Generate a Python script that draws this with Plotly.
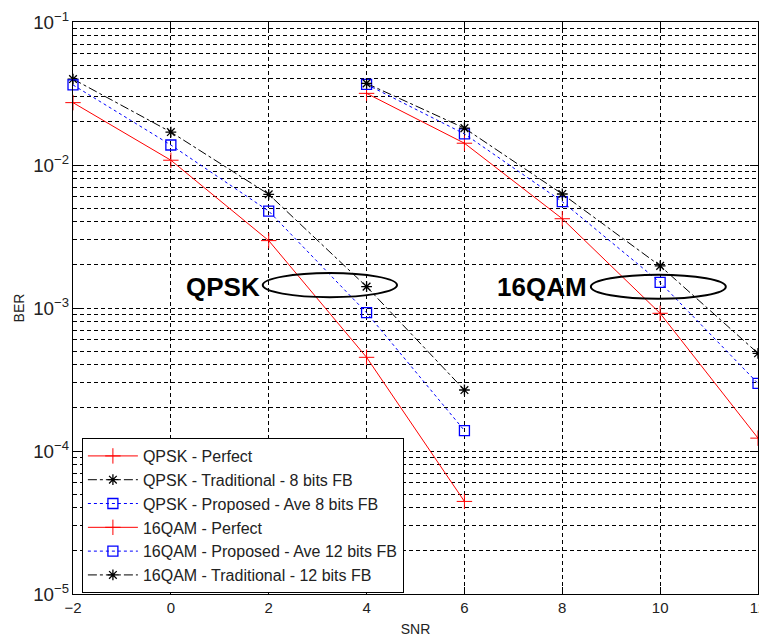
import plotly.graph_objects as go

# ---- data ----
snr_qpsk = [-2, 0, 2, 4, 6]
qpsk_perfect = [0.0273, 0.0108, 0.00296, 4.52e-4, 4.44e-5]
qpsk_trad = [0.0399, 0.0170, 0.00624, 0.00141, 2.67e-4]
qpsk_prop = [0.0363, 0.0138, 0.00476, 9.27e-4, 1.39e-4]

snr_16qam = [4, 6, 8, 10, 12]
qam_perfect = [0.0317, 0.0142, 0.00421, 9.18e-4, 1.23e-4]
qam_prop = [0.0366, 0.0165, 0.00554, 0.00151, 2.97e-4]
qam_trad = [0.0372, 0.0181, 0.00627, 0.00197, 4.82e-4]

x_ticks = [-2, 0, 2, 4, 6, 8, 10, 12]

FONT = "Arial, Liberation Sans, Helvetica, sans-serif"
GRID = dict(gridcolor="black", gridwidth=1, griddash="4px,3px")

perfect_style = dict(mode="lines+markers", line=dict(color="red", width=1),
                     marker=dict(symbol="cross-thin", size=11, color="red",
                                 line=dict(color="red", width=1)))
trad_style = dict(mode="lines+markers", line=dict(color="black", width=1, dash="dashdot"),
                  marker=dict(symbol="asterisk", size=9, color="black",
                              line=dict(color="black", width=1.3)))
prop_style = dict(mode="lines+markers", line=dict(color="blue", width=1, dash="dot"),
                  marker=dict(symbol="square-open", size=10, color="blue",
                              line=dict(color="blue", width=1.3)))

fig = go.Figure()
fig.add_trace(go.Scatter(x=snr_qpsk, y=qpsk_perfect, name="QPSK - Perfect", cliponaxis=False, **perfect_style))
fig.add_trace(go.Scatter(x=snr_qpsk, y=qpsk_trad, name="QPSK - Traditional - 8 bits FB", cliponaxis=False, **trad_style))
fig.add_trace(go.Scatter(x=snr_qpsk, y=qpsk_prop, name="QPSK - Proposed - Ave 8 bits FB", cliponaxis=False, **prop_style))
fig.add_trace(go.Scatter(x=snr_16qam, y=qam_perfect, name="16QAM - Perfect", cliponaxis=False, **perfect_style))
fig.add_trace(go.Scatter(x=snr_16qam, y=qam_prop, name="16QAM - Proposed - Ave 12 bits FB", cliponaxis=False, **prop_style))
fig.add_trace(go.Scatter(x=snr_16qam, y=qam_trad, name="16QAM - Traditional - 12 bits FB", cliponaxis=False, **trad_style))

fig.update_xaxes(
    range=[-2, 12], tickvals=x_ticks, showgrid=True, **GRID,
    showline=True, linecolor="black", linewidth=1, mirror="ticks",
    ticks="inside", ticklen=7, tickcolor="black",
    zeroline=False, ticklabeloverflow="allow", automargin=False,
    title=dict(text="SNR", font=dict(size=14, color="#222", family=FONT), standoff=9),
    tickfont=dict(size=15, color="#222", family=FONT),
)
fig.update_yaxes(
    type="log", range=[-5, -1], dtick=1, exponentformat="power", showexponent="all",
    showgrid=True, **GRID,
    minor=dict(dtick="D1", showgrid=True, ticks="", **GRID),
    showline=True, linecolor="black", linewidth=1, mirror="ticks",
    ticks="inside", ticklen=8, tickcolor="black", automargin=False,
    title=dict(text="BER", font=dict(size=14, color="#222", family=FONT), standoff=5),
    tickfont=dict(size=15, color="#222", family=FONT),
)

# ellipses and labels
fig.add_shape(type="circle", xref="paper", yref="paper", x0=0.277, x1=0.473, y0=0.519, y1=0.561,
              line=dict(color="black", width=2))
fig.add_shape(type="circle", xref="paper", yref="paper", x0=0.756, x1=0.953, y0=0.516, y1=0.558,
              line=dict(color="black", width=2))
fig.add_annotation(text="<b>QPSK</b>", xref="paper", yref="paper", x=0.276, y=0.537,
                   xanchor="right", yanchor="middle", showarrow=False,
                   font=dict(size=26, color="black", family=FONT))
fig.add_annotation(text="<b>16QAM</b>", xref="paper", yref="paper", x=0.753, y=0.537,
                   xanchor="right", yanchor="middle", showarrow=False,
                   font=dict(size=26, color="black", family=FONT))

fig.update_layout(
    width=759, height=638,
    margin=dict(l=73, r=1, t=22, b=44, autoexpand=False),
    paper_bgcolor="white", plot_bgcolor="white",
    font=dict(family=FONT, color="#222"),
    legend=dict(x=0.013, y=0.2727, xanchor="left", yanchor="top",
                bgcolor="white", bordercolor="black", borderwidth=1,
                font=dict(size=16, color="#222", family=FONT),
                itemwidth=50, tracegroupgap=0),
    showlegend=True,
)

fig.write_html("out.html", config={"displayModeBar": False},
               post_script="document.body.style.margin='0';document.body.style.overflow='hidden';")
